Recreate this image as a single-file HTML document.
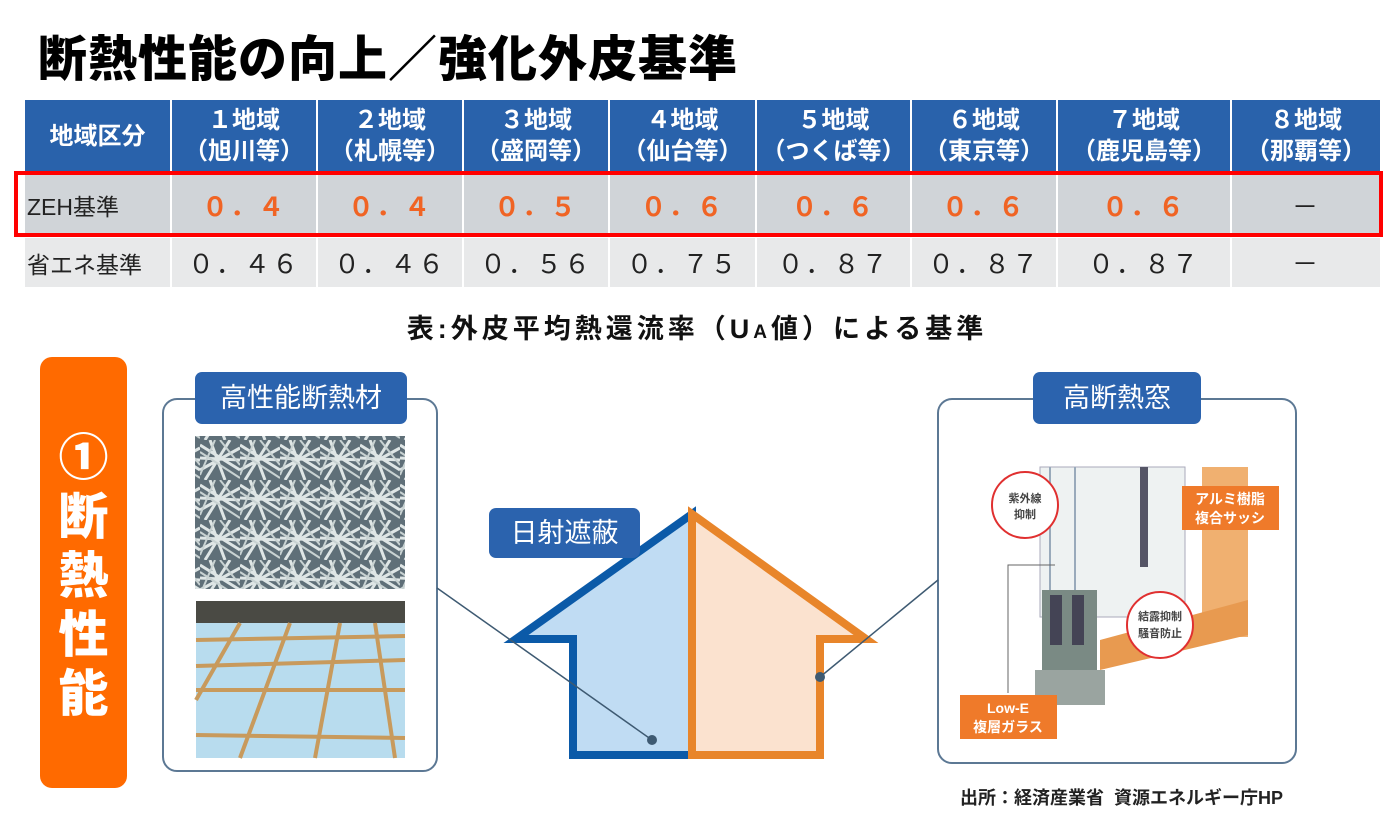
<!DOCTYPE html>
<html><head><meta charset="utf-8">
<style>
*{margin:0;padding:0;box-sizing:border-box}
body{width:1394px;height:816px;background:#fff;position:relative;overflow:hidden;font-family:"Liberation Sans","Noto Sans CJK JP",sans-serif}
.a{position:absolute}
.title{left:38px;top:20px;font-size:49px;font-weight:900;color:#000;letter-spacing:1px;white-space:nowrap}
table{position:absolute;left:23px;top:98px;border-collapse:collapse;table-layout:fixed}
td{border:2px solid #fff;text-align:center;font-family:"Liberation Sans","Noto Sans CJK JP",sans-serif}
tr.h td{background:#2962ab;color:#fff;font-weight:bold;font-size:24px;line-height:31px;height:74px;white-space:nowrap}
tr.z td{background:#d0d4d8;height:64px;color:#f06424;font-weight:bold;font-size:26px;letter-spacing:2px}
tr.s td{background:#e8e9ea;height:51px;color:#222;font-size:26px;letter-spacing:2px}
td.l{text-align:left;padding-left:2px;color:#222!important;font-weight:normal!important;font-size:23px!important;letter-spacing:0!important}
.lab{background:#2b63ae;color:#fff;border-radius:7px;text-align:center;font-size:27px}
</style></head><body>
<div class="a title">断熱性能の向上／強化外皮基準</div>
<table>
<colgroup><col style="width:147px"><col style="width:146px"><col style="width:146px"><col style="width:146px"><col style="width:147px"><col style="width:155px"><col style="width:146px"><col style="width:174px"><col style="width:150px"></colgroup>
<tr class="h"><td>地域区分</td><td>１地域<br>（旭川等）</td><td>２地域<br>（札幌等）</td><td>３地域<br>（盛岡等）</td><td>４地域<br>（仙台等）</td><td>５地域<br>（つくば等）</td><td>６地域<br>（東京等）</td><td>７地域<br>（鹿児島等）</td><td>８地域<br>（那覇等）</td></tr>
<tr class="z"><td class="l">ZEH基準</td><td>０．４</td><td>０．４</td><td>０．５</td><td>０．６</td><td>０．６</td><td>０．６</td><td>０．６</td><td style="color:#222;font-weight:normal">－</td></tr>
<tr class="s"><td class="l">省エネ基準</td><td>０．４６</td><td>０．４６</td><td>０．５６</td><td>０．７５</td><td>０．８７</td><td>０．８７</td><td>０．８７</td><td>－</td></tr>
</table>
<div class="a" style="left:14px;top:171px;width:1369px;height:66px;border:4px solid #f00"></div>
<div class="a" style="left:0;width:1394px;top:307px;text-align:center;font-size:27px;letter-spacing:4px;font-weight:bold;color:#111">表:外皮平均熱還流率（U<span style="font-size:19px">A</span>値）による基準</div>

<div class="a" style="left:40px;top:357px;width:87px;height:431px;background:#ff6a00;border-radius:12px;color:#fff;font-weight:900;font-size:50px;line-height:59px;text-align:center;padding-top:72px">①<br>断<br>熱<br>性<br>能</div>

<svg class="a" style="left:0;top:0" width="1394" height="816">
<rect x="163" y="399" width="274" height="372" rx="14" fill="none" stroke="#5c7894" stroke-width="2"/>
<rect x="938" y="399" width="358" height="364" rx="14" fill="none" stroke="#5c7894" stroke-width="2"/>
<defs>
<pattern id="fib" width="40" height="40" patternUnits="userSpaceOnUse">
<rect width="40" height="40" fill="#5f6f78"/>
<path d="M0 5L40 30M0 30L40 8M10 0L25 40M30 0L5 40M0 18L40 20" stroke="#dfe6e6" stroke-width="3" fill="none"/>
<path d="M0 12L40 38M20 0L40 25M0 35L15 0" stroke="#c8d2d2" stroke-width="2" fill="none"/>
</pattern>
</defs>
<rect x="195" y="436" width="210" height="153" fill="url(#fib)"/>
<rect x="196" y="601" width="209" height="157" fill="#b8dcee"/>
<rect x="196" y="601" width="209" height="22" fill="#4a4a44"/>
<g stroke="#c89a5c" stroke-width="4">
<line x1="196" y1="640" x2="405" y2="636"/><line x1="196" y1="666" x2="405" y2="660"/><line x1="196" y1="690" x2="405" y2="690"/><line x1="196" y1="735" x2="405" y2="738"/>
<line x1="290" y1="623" x2="240" y2="758"/><line x1="340" y1="623" x2="315" y2="758"/><line x1="375" y1="623" x2="395" y2="758"/><line x1="240" y1="623" x2="196" y2="700"/>
</g>
<polygon points="692,514 516,639 573,639 573,755 692,755" fill="#c0dcf3" stroke="#0b5aa8" stroke-width="8" stroke-linejoin="miter"/>
<polygon points="692,514 866,639 820,639 820,755 692,755" fill="#fbe2cf" stroke="#e8852a" stroke-width="8" stroke-linejoin="miter"/>
<line x1="437" y1="588" x2="652" y2="740" stroke="#3e5a72" stroke-width="1.5"/>
<circle cx="652" cy="740" r="5" fill="#3e5a72"/>
<line x1="938" y1="580" x2="820" y2="677" stroke="#3e5a72" stroke-width="1.5"/>
<circle cx="820" cy="677" r="5" fill="#3e5a72"/>
<rect x="1202" y="467" width="46" height="170" fill="#f0b070"/>
<polygon points="1100,640 1248,600 1248,635 1100,670" fill="#e89a50"/>
<rect x="1040" y="467" width="145" height="150" fill="#eef2f2" stroke="#aab" stroke-width="1"/>
<rect x="1140" y="467" width="8" height="100" fill="#556"/>
<rect x="1042" y="590" width="55" height="80" fill="#7a8a84"/>
<rect x="1050" y="595" width="12" height="50" fill="#445"/><rect x="1072" y="595" width="12" height="50" fill="#445"/>
<rect x="1035" y="670" width="70" height="35" fill="#9aa4a0"/>
<line x1="1050" y1="467" x2="1050" y2="590" stroke="#9ab" stroke-width="2"/><line x1="1075" y1="467" x2="1075" y2="590" stroke="#9ab" stroke-width="2"/>
<circle cx="1025" cy="505" r="33" fill="#fff" stroke="#e03030" stroke-width="2"/>
<circle cx="1160" cy="625" r="33" fill="#fff" stroke="#e03030" stroke-width="2"/>
<text x="1025" y="502" font-size="11" text-anchor="middle" fill="#444" font-family="Liberation Sans,Noto Sans CJK JP,sans-serif" font-weight="bold">紫外線</text>
<text x="1025" y="518" font-size="11" text-anchor="middle" fill="#444" font-family="Liberation Sans,Noto Sans CJK JP,sans-serif" font-weight="bold">抑制</text>
<text x="1160" y="620" font-size="11" text-anchor="middle" fill="#444" font-family="Liberation Sans,Noto Sans CJK JP,sans-serif" font-weight="bold">結露抑制</text>
<text x="1160" y="637" font-size="11" text-anchor="middle" fill="#444" font-family="Liberation Sans,Noto Sans CJK JP,sans-serif" font-weight="bold">騒音防止</text>
<polyline points="1008,693 1008,565 1055,565" fill="none" stroke="#666" stroke-width="1"/>
<rect x="1182" y="486" width="97" height="44" fill="#ef7a2a"/>
<text x="1230" y="504" font-size="14" text-anchor="middle" fill="#fff" font-family="Liberation Sans,Noto Sans CJK JP,sans-serif" font-weight="bold">アルミ樹脂</text>
<text x="1230" y="523" font-size="14" text-anchor="middle" fill="#fff" font-family="Liberation Sans,Noto Sans CJK JP,sans-serif" font-weight="bold">複合サッシ</text>
<rect x="960" y="695" width="97" height="44" fill="#ef7a2a"/>
<text x="1008" y="713" font-size="14" text-anchor="middle" fill="#fff" font-family="Liberation Sans,Noto Sans CJK JP,sans-serif" font-weight="bold">Low-E</text>
<text x="1008" y="732" font-size="14" text-anchor="middle" fill="#fff" font-family="Liberation Sans,Noto Sans CJK JP,sans-serif" font-weight="bold">複層ガラス</text>
</svg>

<div class="a lab" style="left:195px;top:372px;width:212px;height:52px;line-height:52px">高性能断熱材</div>
<div class="a lab" style="left:1033px;top:372px;width:168px;height:52px;line-height:52px">高断熱窓</div>
<div class="a lab" style="left:489px;top:508px;width:151px;height:50px;line-height:50px">日射遮蔽</div>
<div class="a" style="left:960px;top:784px;font-size:18px;font-weight:bold;color:#222;white-space:nowrap">出所：経済産業省&nbsp; 資源エネルギー庁HP</div>
</body></html>
